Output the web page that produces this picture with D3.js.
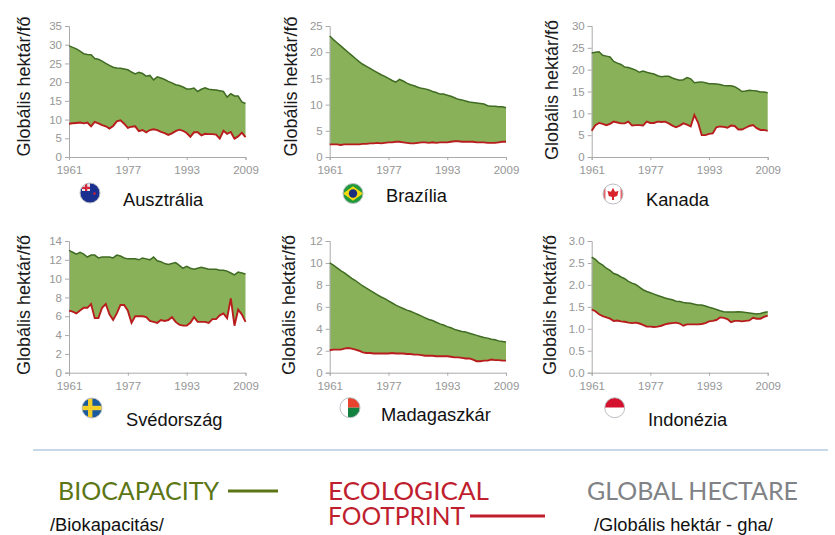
<!DOCTYPE html>
<html><head><meta charset="utf-8">
<script src="https://cdn.jsdelivr.net/npm/d3@7"></script>
<style>html,body{margin:0;padding:0;background:#fff;overflow:hidden}svg{display:block}</style>
</head><body><svg id="c" width="835" height="535"></svg>
<script>
const firstYear = 1961, lastYear = 2009;
const tickYears = [1961, 1977, 1993, 2009];
const unitLabel = "Globális hektár/fő";

const countries = ["Ausztrália","Brazília","Kanada","Svédország","Madagaszkár","Indonézia"];
const yMaxes = [35, 25, 30, 14, 12, 3];
const yStepSizes = [5, 5, 5, 2, 2, 0.5];

const bioAustralia = [29.7,29.3,28.9,28.3,27.6,27.4,27.3,26.3,26.1,25.6,25.0,24.5,24.0,23.8,23.7,23.5,23.3,22.7,22.2,22.6,22.3,21.6,21.8,20.6,21.4,21.1,20.7,20.2,19.8,19.3,19.1,18.7,18.2,18.2,18.4,17.5,18.1,18.5,18.1,18.0,17.9,17.7,17.5,16.0,16.9,16.3,16.3,14.7,14.3];
const fpAustralia = [8.9,9.0,9.1,9.2,9.0,9.2,8.2,9.4,9.0,8.5,8.2,7.6,8.3,9.5,9.8,8.9,7.8,8.1,8.2,6.9,7.2,6.6,7.2,7.4,7.2,6.7,6.4,5.9,6.3,6.9,7.3,7.0,6.4,5.4,6.6,6.6,5.8,6.2,6.1,6.1,6.0,4.9,7.0,6.2,6.7,4.9,5.5,6.5,5.3];
const bioBrazil = [23.1,22.4,21.8,21.2,20.6,20.0,19.4,18.8,18.2,17.7,17.3,16.9,16.5,16.1,15.7,15.4,15.0,14.6,14.3,14.8,14.5,14.1,13.8,13.6,13.3,13.1,13.0,12.8,12.5,12.3,12.0,12.0,11.8,11.6,11.3,11.0,10.9,10.7,10.5,10.4,10.3,10.2,10.1,9.8,9.7,9.7,9.6,9.6,9.4];
const fpBrazil = [2.4,2.4,2.4,2.3,2.4,2.4,2.4,2.4,2.4,2.5,2.5,2.6,2.6,2.7,2.6,2.7,2.8,2.8,2.9,2.9,2.8,2.7,2.6,2.6,2.7,2.8,2.8,2.7,2.8,2.7,2.8,2.8,2.8,2.9,3.0,3.0,2.9,2.9,2.9,2.9,2.8,2.8,2.8,2.7,2.7,2.7,2.8,2.9,2.9];
const bioCanada = [23.8,24.0,24.1,23.3,23.1,22.9,21.9,21.5,21.2,20.6,20.5,20.2,19.9,19.4,19.7,19.4,19.2,19.0,18.6,18.4,18.5,18.5,18.1,17.8,17.6,17.7,18.2,17.9,17.0,17.1,17.2,17.0,16.8,16.8,16.7,16.6,16.4,16.3,16.3,16.1,15.6,15.0,15.1,15.3,15.2,15.1,14.9,14.9,14.7];
const fpCanada = [6.0,7.3,7.8,7.6,7.3,7.6,8.1,7.9,7.7,7.7,8.1,7.2,7.3,7.3,7.2,8.1,7.8,7.8,8.1,8.0,8.1,7.7,7.2,6.8,7.2,7.7,7.4,7.0,9.6,7.9,5.0,5.0,5.3,5.4,6.8,7.0,6.9,6.7,7.2,7.1,6.3,6.3,6.7,7.1,7.3,6.6,6.2,6.2,6.0];
const bioSweden = [13.0,12.8,12.6,12.8,12.6,12.3,12.5,12.5,12.2,12.3,12.3,12.3,12.2,12.5,12.4,12.2,12.1,12.1,12.1,12.0,12.2,12.1,12.0,12.3,11.9,11.8,11.6,11.5,11.6,11.7,11.4,11.1,11.3,11.1,11.0,11.1,11.2,11.1,11.0,11.0,11.0,10.9,10.9,10.8,10.6,10.4,10.7,10.6,10.5];
const fpSweden = [6.6,6.5,6.3,6.6,6.9,6.9,7.3,5.8,5.8,6.9,7.3,6.2,5.6,6.3,7.2,7.2,6.6,5.3,6.0,6.0,6.0,5.9,5.5,5.4,5.3,5.6,5.5,5.6,5.9,5.4,5.1,5.0,5.0,5.3,5.9,5.4,5.4,5.4,5.3,5.7,5.7,6.1,6.3,5.8,7.9,5.0,6.7,6.2,5.4];
const bioMadagascar = [10.0,9.8,9.55,9.3,9.1,8.85,8.6,8.4,8.15,7.9,7.7,7.5,7.3,7.1,6.9,6.75,6.55,6.35,6.15,6.0,5.85,5.7,5.6,5.45,5.3,5.15,5.0,4.85,4.75,4.6,4.45,4.35,4.2,4.1,3.95,3.85,3.75,3.7,3.6,3.5,3.4,3.3,3.2,3.15,3.05,3.0,2.9,2.85,2.8];
const fpMadagascar = [2.05,2.1,2.1,2.1,2.2,2.25,2.2,2.1,2.0,1.85,1.8,1.8,1.75,1.75,1.75,1.75,1.75,1.8,1.75,1.75,1.75,1.7,1.7,1.65,1.65,1.6,1.55,1.55,1.55,1.5,1.5,1.5,1.5,1.45,1.4,1.4,1.35,1.3,1.3,1.2,1.05,1.05,1.1,1.1,1.2,1.15,1.15,1.1,1.1];
const bioIndonesia = [2.63,2.58,2.5,2.45,2.38,2.33,2.26,2.23,2.18,2.14,2.08,2.04,2.01,1.95,1.89,1.85,1.82,1.79,1.76,1.73,1.7,1.68,1.66,1.63,1.62,1.6,1.59,1.58,1.56,1.54,1.54,1.52,1.49,1.47,1.44,1.41,1.39,1.38,1.38,1.38,1.39,1.38,1.37,1.36,1.35,1.34,1.35,1.37,1.39];
const fpIndonesia = [1.44,1.4,1.33,1.29,1.26,1.23,1.18,1.19,1.17,1.16,1.14,1.13,1.14,1.12,1.09,1.05,1.05,1.04,1.05,1.07,1.1,1.12,1.13,1.14,1.12,1.07,1.1,1.1,1.1,1.1,1.11,1.13,1.17,1.18,1.2,1.26,1.25,1.22,1.15,1.18,1.18,1.17,1.18,1.19,1.25,1.23,1.23,1.27,1.3];
const bioSeries = [bioAustralia,bioBrazil,bioCanada,bioSweden,bioMadagascar,bioIndonesia];
const fpSeries = [fpAustralia,fpBrazil,fpCanada,fpSweden,fpMadagascar,fpIndonesia];

// layout (kept apart from the data)
const layout = [
 {x0:69,x1:245.5,yTop:26,yBot:157,unitX:30,unitY:86.5,lx:123,ly:206,fx:90,fy:193,flag:"au"},
 {x0:329.7,x1:506,yTop:26,yBot:157,unitX:296.5,unitY:86.5,lx:386,ly:202,fx:353,fy:193.5,flag:"br"},
 {x0:591.7,x1:767.7,yTop:26,yBot:157,unitX:557.5,unitY:90,lx:646,ly:206,fx:613,fy:194,flag:"ca"},
 {x0:69,x1:245.5,yTop:241,yBot:372.7,unitX:30,unitY:305,lx:126,ly:426,fx:92,fy:408,flag:"se"},
 {x0:329.7,x1:506,yTop:241,yBot:372.7,unitX:294.5,unitY:305,lx:381,ly:421,fx:350,fy:407.7,flag:"mg"},
 {x0:591.7,x1:767.7,yTop:241,yBot:372.7,unitX:555.5,unitY:305,lx:648,ly:426,fx:614.7,fy:407.7,flag:"id"}
];
const AR = "'Liberation Sans',Arial,sans-serif";
const svg = d3.select("#c");

function drawFlag(g, kind, r){
  const id = "clip-"+kind;
  svg.append("defs").append("clipPath").attr("id",id).append("circle").attr("r",r);
  const f = g.append("g").attr("clip-path",`url(#${id})`);
  const rect=(x,y,w,h,c)=>f.append("rect").attr("x",x).attr("y",y).attr("width",w).attr("height",h).attr("fill",c);
  if(kind==="au"){
    rect(-r,-r,2*r,2*r,"#1b2f8f");
    rect(-r*0.8,-r,r*0.8,r*0.8,"#e8e4ea"); rect(-r*0.8,-r*0.62,r*0.8,r*0.22,"#d3223a"); rect(-r*0.5,-r,r*0.22,r*0.8,"#d3223a");
    f.append("circle").attr("cx",r*0.45).attr("cy",r*0.05).attr("r",1.2).attr("fill","#d3223a");
  } else if(kind==="br"){
    rect(-r,-r,2*r,2*r,"#1f9a3c");
    f.append("path").attr("d",`M${-r},0L0,${-r*0.72}L${r},0L0,${r*0.72}Z`).attr("fill","#f4d90f");
    f.append("circle").attr("r",r*0.42).attr("fill","#1b2f7f");
  } else if(kind==="ca"){
    rect(-r,-r,2*r,2*r,"#fff");
    rect(-r,-r,r*0.25,2*r,"#e2676b"); rect(r*0.75,-r,r*0.25,2*r,"#e2676b");
    f.append("path").attr("d",`M0,${-r*0.62}L${r*0.2},${-r*0.22}L${r*0.55},${-r*0.3}L${r*0.42},${r*0.2}L${r*0.1},${r*0.3}L${r*0.1},${r*0.6}L${-r*0.1},${r*0.6}L${-r*0.1},${r*0.3}L${-r*0.42},${r*0.2}L${-r*0.55},${-r*0.3}L${-r*0.2},${-r*0.22}Z`).attr("fill","#d8232a");
  } else if(kind==="se"){
    rect(-r,-r,2*r,2*r,"#1c5aa0");
    rect(-r,-r*0.22,2*r,r*0.44,"#f3cf2a"); rect(-r*0.4,-r,r*0.44,2*r,"#f3cf2a");
  } else if(kind==="mg"){
    rect(-r,-r,2*r,2*r,"#fff");
    rect(-r*0.2,-r,r*1.2,r,"#e8432e"); rect(-r*0.2,0,r*1.2,r,"#13813f");
  } else {
    rect(-r,-r,2*r,r,"#d4122e"); rect(-r,0,2*r,r,"#fff");
  }
  g.append("circle").attr("r",r).attr("fill","none").attr("stroke","#b9bdc2").attr("stroke-width",1);
}

countries.forEach((name,i)=>{
  const L = layout[i], bio = bioSeries[i], fp = fpSeries[i];
  const g = svg.append("g");
  const x = d3.scaleLinear().domain([firstYear,lastYear]).range([L.x0,L.x1]);
  const y = d3.scaleLinear().domain([0,yMaxes[i]]).range([L.yBot,L.yTop]);
  const years = d3.range(firstYear,lastYear+1);
  g.append("path").attr("fill","#88b15a").attr("d",
    d3.area().x(d=>x(d)).y0(d=>y(fp[d-firstYear])).y1(d=>y(bio[d-firstYear]))(years));
  const yTicks = d3.range(0,yMaxes[i]+1e-9,yStepSizes[i]);
  const yAxis = g.append("g").attr("transform",`translate(${L.x0},0)`)
    .call(d3.axisLeft(y).tickValues(yTicks).tickSize(4).tickPadding(3)
      .tickFormat(d=> yMaxes[i]===3 ? d3.format(".1f")(d) : d3.format("d")(d)));
  const xAxis = g.append("g").attr("transform",`translate(0,${L.yBot})`)
    .call(d3.axisBottom(x).tickValues(tickYears).tickSize(3).tickPadding(6).tickFormat(d3.format("d")));
  [yAxis,xAxis].forEach(a=>{
    a.selectAll("path,line").attr("stroke","#aaaaaa");
    a.selectAll("text").attr("fill","#969696").attr("font-family",AR).attr("font-size",11.5);
  });
  const line = s=>d3.line().x(d=>x(d)).y(d=>y(s[d-firstYear]))(years);
  g.append("path").attr("fill","none").attr("stroke","#3f6b22").attr("stroke-width",1.5).attr("d",line(bio));
  g.append("path").attr("fill","none").attr("stroke","#b81c1c").attr("stroke-width",1.9).attr("d",line(fp));
  g.append("text").attr("transform",`translate(${L.unitX},${L.unitY}) rotate(-90)`)
    .attr("text-anchor","middle").attr("font-family",AR).attr("font-size",18).attr("fill","#1a1a1a").text(unitLabel);
  g.append("text").attr("x",L.lx).attr("y",L.ly).attr("font-family",AR).attr("font-size",18.3).attr("fill","#111").text(name);
  drawFlag(g.append("g").attr("transform",`translate(${L.fx},${L.fy})`), L.flag, 10);
});

// bottom legend
svg.append("line").attr("x1",33).attr("x2",828).attr("y1",450).attr("y2",450).attr("stroke","#b4cde0").attr("stroke-width",1.3);
const legendText=(t,x,y,w,c)=>svg.append("text").attr("x",x).attr("y",y).attr("font-family","Lato,sans-serif")
  .attr("font-size",25).attr("font-weight",400).attr("fill",c).attr("textLength",w).attr("lengthAdjust","spacingAndGlyphs").text(t);
legendText("BIOCAPACITY",58,500,161,"#5c7616");
legendText("ECOLOGICAL",328,500,161,"#bf1e2e");
legendText("FOOTPRINT",328,525,137,"#bf1e2e");
legendText("GLOBAL HECTARE",587,500,211,"#808285");
svg.append("line").attr("x1",228).attr("x2",278).attr("y1",491).attr("y2",491).attr("stroke","#5c7616").attr("stroke-width",3);
svg.append("line").attr("x1",470).attr("x2",545).attr("y1",516).attr("y2",516).attr("stroke","#bf1e2e").attr("stroke-width",3);
const sub=(t,x)=>svg.append("text").attr("x",x).attr("y",531).attr("font-family",AR).attr("font-size",18.3).attr("fill","#111").text(t);
sub("/Biokapacitás/",50);
sub("/Globális hektár - gha/",594);
</script></body></html>
